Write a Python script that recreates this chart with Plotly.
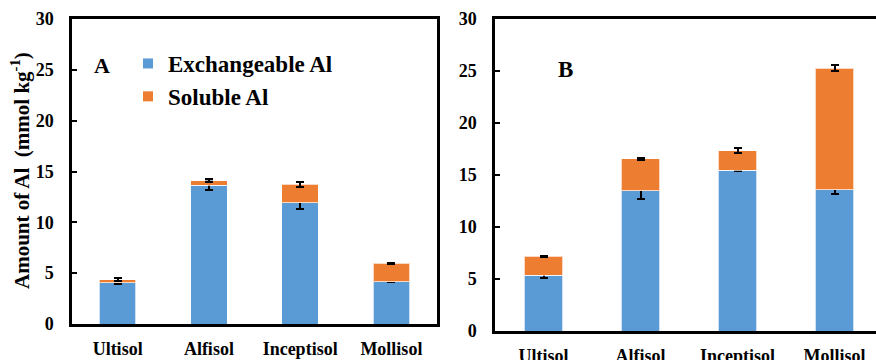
import plotly.graph_objects as go

categories = ["Ultisol", "Alfisol", "Inceptisol", "Mollisol"]

# Panel A
a_exch = [4.05, 13.67, 11.93, 4.18]
a_sol = [0.32, 0.42, 1.80, 1.80]
a_exch_err = [0.12, 0.52, 0.64, 0.05]
a_sol_err = [0.12, 0.15, 0.26, 0.05]

# Panel B
b_exch = [5.38, 13.49, 15.48, 13.56]
b_sol = [1.80, 3.05, 1.86, 11.70]
b_exch_err = [0.27, 0.83, 0.05, 0.35]
b_sol_err = [0.05, 0.05, 0.25, 0.29]

BLUE = "#5B9BD5"
ORANGE = "#ED7D31"
FONT = "Liberation Serif, Times New Roman, serif"
W, H = 876, 360

fig = go.Figure()

err_style = dict(type="data", color="black", thickness=2, width=4, visible=True)
line_style = dict(color="rgba(255,255,255,0.7)", width=1)

fig.add_trace(go.Bar(x=categories, y=a_exch, marker=dict(color=BLUE, line=line_style),
                     error_y=dict(array=a_exch_err, **err_style),
                     xaxis="x", yaxis="y", showlegend=False))
fig.add_trace(go.Bar(x=categories, y=a_sol, marker=dict(color=ORANGE, line=line_style),
                     error_y=dict(array=a_sol_err, **err_style),
                     xaxis="x", yaxis="y", showlegend=False))
fig.add_trace(go.Bar(x=categories, y=b_exch, marker=dict(color=BLUE, line=line_style),
                     error_y=dict(array=b_exch_err, **err_style),
                     xaxis="x2", yaxis="y2", showlegend=False))
fig.add_trace(go.Bar(x=categories, y=b_sol, marker=dict(color=ORANGE, line=line_style),
                     error_y=dict(array=b_sol_err, **err_style),
                     xaxis="x2", yaxis="y2", showlegend=False))

# legend entries
fig.add_trace(go.Scatter(x=[None], y=[None], mode="markers", name="Exchangeable Al",
                         marker=dict(symbol="square", size=10, color=BLUE),
                         xaxis="x", yaxis="y"))
fig.add_trace(go.Scatter(x=[None], y=[None], mode="markers", name="Soluble Al",
                         marker=dict(symbol="square", size=10, color=ORANGE),
                         xaxis="x", yaxis="y"))

tickfont = dict(family=FONT, size=18, color="black", weight="bold")

xcommon = dict(type="category", showline=True, linecolor="black", linewidth=2.5, mirror=True,
               ticks="outside", ticklen=7, tickcolor="rgba(0,0,0,0)", tickfont=tickfont,
               showgrid=False, zeroline=False, fixedrange=True, automargin=False)
ycommon = dict(range=[0, 30], dtick=5, showline=True, linecolor="black", linewidth=2.5,
               ticks="inside", ticklen=5, tickwidth=2, tickcolor="black", tickfont=tickfont,
               showgrid=False, zeroline=False, ticklabelstandoff=12, automargin=False)

fig.update_layout(
    width=W, height=H,
    margin=dict(l=0, r=0, t=0, b=0, pad=0, autoexpand=False),
    paper_bgcolor="white", plot_bgcolor="white",
    barmode="stack", bargap=0.6,
    xaxis=dict(domain=[72 / W, 437 / W], range=[-0.5, 3.5], anchor="y", **xcommon),
    yaxis=dict(domain=[36 / H, 341 / H], anchor="x", mirror=True, **ycommon),
    xaxis2=dict(domain=[495 / W, 1.0], range=[-0.5, (W - 495) / 97 - 0.5], anchor="y2", **xcommon),
    yaxis2=dict(domain=[29 / H, 341 / H], anchor="x2", mirror=False, **ycommon),
    legend=dict(x=128 / W, y=1 - 42 / H, xanchor="left", yanchor="top", traceorder="normal",
                font=dict(family=FONT, size=23, color="black", weight="bold"),
                bgcolor="rgba(0,0,0,0)", tracegroupgap=0),
    font=dict(family=FONT, color="black"),
    annotations=[
        dict(text="Amount of Al  (mmol kg<sup>-1</sup>)", textangle=-90,
             x=20 / W, y=1 - 171 / H, xref="paper", yref="paper", showarrow=False,
             xanchor="center", yanchor="middle",
             font=dict(family=FONT, size=21, color="black", weight="bold")),
        dict(text="A", x=102 / W, y=1 - 65 / H, xref="paper", yref="paper", showarrow=False,
             xanchor="center", yanchor="middle",
             font=dict(family=FONT, size=22, color="black", weight="bold")),
        dict(text="B", x=565 / W, y=1 - 70 / H, xref="paper", yref="paper", showarrow=False,
             xanchor="center", yanchor="middle",
             font=dict(family=FONT, size=23, color="black", weight="bold")),
    ],
)

fig.write_html("out.html")
